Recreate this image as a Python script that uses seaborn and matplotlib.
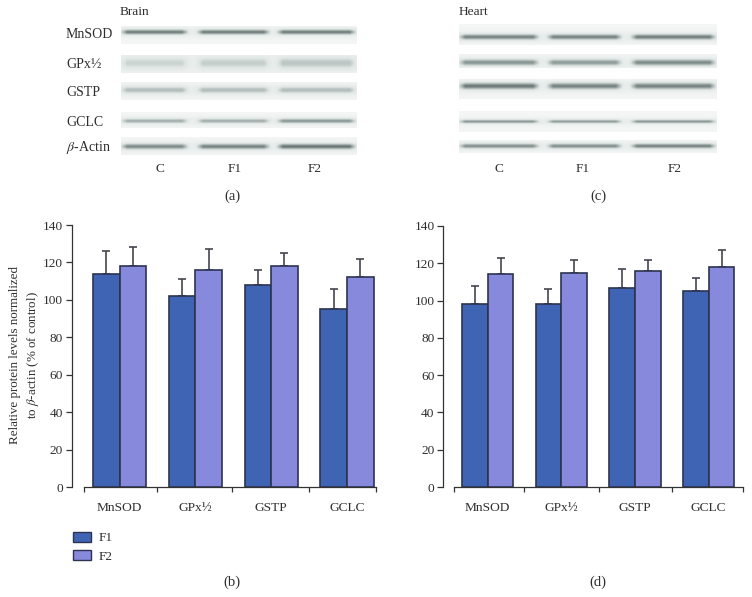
import numpy as np
import pandas as pd
import seaborn as sns
import matplotlib
matplotlib.use("Agg")
import matplotlib.pyplot as plt
from matplotlib.colors import LinearSegmentedColormap
from matplotlib.patches import Patch

proteins = ["MnSOD", "GPx½", "GSTP", "GCLC"]
generations = ["F1", "F2"]
brain_f1 = [114, 102, 108, 95]
brain_f2 = [118, 116, 118, 112]
brain_f1_top = [126, 111, 116, 106]
brain_f2_top = [128, 127, 125, 122]
heart_f1 = [98, 98, 107, 105]
heart_f2 = [114, 115, 116, 118]
heart_f1_top = [108, 106, 117, 112]
heart_f2_top = [123, 122, 122, 127]
yticks = [0, 20, 40, 60, 80, 100, 120, 140]
blot_labels = ["MnSOD", "GPx½", "GSTP", "GCLC", r"$\beta$-Actin"]
lane_labels = ["C", "F1", "F2"]

# band darkness per strip and lane (C, F1, F2)
brain_bands = [[0.85, 0.85, 0.85], [0.28, 0.32, 0.38], [0.45, 0.45, 0.45], [0.55, 0.55, 0.70], [0.78, 0.82, 0.90]]
heart_bands = [[0.82, 0.82, 0.85], [0.72, 0.68, 0.78], [0.88, 0.82, 0.82], [0.72, 0.68, 0.72], [0.75, 0.75, 0.82]]

W, H = 752, 597
C1, C2 = "#3f64b3", "#8789dc"
EDGE = "#2c3350"
TXT = "#2e2e2e"

sns.set_theme(style="white")
plt.rcParams["font.family"] = ["Liberation Serif", "DejaVu Serif"]
plt.rcParams["mathtext.fontset"] = "stix"
plt.rcParams["font.size"] = 9.6
fig = plt.figure(figsize=(W / 100, H / 100), dpi=100)
fig.patch.set_facecolor("white")


def rect(x0, y0, x1, y1):
    return [x0 / W, 1 - y1 / H, (x1 - x0) / W, (y1 - y0) / H]


def label(x, y, s, ha="center", **kw):
    fig.text(x / W, 1 - y / H, s, ha=ha, va="center", color=TXT, fontsize=kw.pop("fontsize", 9.6), **kw)


blot_cmap = LinearSegmentedColormap.from_list("blot", ["#ffffff", "#dfe6e4", "#8d9a98", "#2f3b3a"])


def blot(x0, x1, y0, y1, yc, lanes, strengths, sigma):
    nx, ny = int(x1 - x0) * 2, int((y1 - y0)) * 3
    xs = np.linspace(x0, x1, nx)
    ys = np.linspace(y0, y1, ny)
    env = np.zeros(nx)
    for (a, b), s in zip(lanes, strengths):
        env = np.maximum(env, s * np.clip((xs - a + 2) / 8, 0, 1) * np.clip((b - xs + 2) / 8, 0, 1))
    X, Y = np.meshgrid(env, ys)
    core = X * np.exp(-((Y - yc) / (sigma * 1.25)) ** 2)
    halo = 0.13 * np.exp(-((Y - yc) / (sigma * 3.0)) ** 2)
    img = np.clip(0.11 + halo + 0.62 * core, 0, 1)
    a = fig.add_axes(rect(x0, y0, x1, y1))
    a.imshow(img, cmap=blot_cmap, vmin=0, vmax=1, aspect="auto", interpolation="bilinear")
    a.axis("off")


brain_lanes = [(121, 188), (197, 270), (277, 356)]
brain_strips = [(26, 44, 32, 2.0), (55, 73, 63, 4.5), (82, 100, 90, 2.6), (112, 128, 121, 1.8), (137, 155, 146.5, 2.2)]
for (y0, y1, yc, sg), st in zip(brain_strips, brain_bands):
    blot(121, 357, y0, y1, yc, brain_lanes, st, sg)

heart_lanes = [(459, 539), (547, 622), (631, 716)]
heart_strips = [(24, 45, 37, 2.2), (54, 68, 62.5, 2.5), (79, 99, 86, 2.6), (111, 132, 122, 1.3), (140, 153, 146, 1.9)]
for (y0, y1, yc, sg), st in zip(heart_strips, heart_bands):
    blot(459, 717, y0, y1, yc, heart_lanes, st, sg)

for y, s in zip([35, 64, 92, 123, 147], blot_labels):
    label(66, y, s, ha="left", fontsize=10)
label(120, 12, "Brain", ha="left", fontsize=9.6)
label(459, 12, "Heart", ha="left", fontsize=9.6)
for x, s in zip([160, 235, 315], lane_labels):
    label(x, 169, s)
for x, s in zip([499, 583, 675], lane_labels):
    label(x, 169, s)
label(232, 196, "(a)", fontsize=10.5)
label(598, 196, "(c)", fontsize=10.5)
label(232, 582, "(b)", fontsize=10.5)
label(598, 582, "(d)", fontsize=10.5)


def panel(ax_left, ax_right, top, x_start, x_end, centers, ticks, f1, f2, t1, t2):
    ax = fig.add_axes(rect(ax_left, top, ax_right, 487))
    df = pd.DataFrame({
        "protein": proteins * 2,
        "generation": [generations[0]] * 4 + [generations[1]] * 4,
        "level": list(f1) + list(f2),
    })
    spacing = (centers[-1] - centers[0]) / 3
    to_data = lambda px: (px - centers[0]) / spacing
    sns.barplot(data=df, x="protein", y="level", hue="generation", palette=[C1, C2], width=0.7, gap=0,
                errorbar=None, edgecolor=EDGE, linewidth=1.2, legend=False, ax=ax, saturation=1, zorder=3)
    for off, vals, tops in [(-0.175, f1, t1), (0.175, f2, t2)]:
        xp = np.arange(4) + off
        up = np.array(tops) - np.array(vals)
        ax.errorbar(xp, vals, yerr=[np.zeros(4), up], fmt="none", ecolor="#45454f", elinewidth=1.2,
                    capsize=3, capthick=1.2, zorder=2)
    ax.set_xlim(to_data(ax_left), to_data(ax_right))
    ax.set_ylim(0, 140)
    ax.set_yticks(yticks)
    ax.set_xticks([to_data(t) for t in ticks])
    ax.set_xticklabels([])
    ax.set_xlabel("")
    ax.set_ylabel("")
    ax.set_xticks(range(4), minor=True)
    ax.set_xticklabels(proteins, minor=True)
    ax.tick_params(axis="x", which="minor", length=0, pad=10.5, labelsize=9.6, labelcolor=TXT)
    ax.tick_params(axis="x", which="major", length=3.5, width=0.9, color="#333333", bottom=True)
    ax.tick_params(axis="y", length=4, width=0.9, color="#333333", pad=2.5, labelsize=9.6, labelcolor=TXT, left=True)
    for s in ["top", "right"]:
        ax.spines[s].set_visible(False)
    for s in ["left", "bottom"]:
        ax.spines[s].set_color("#333333")
        ax.spines[s].set_linewidth(0.9)
    ax.spines["bottom"].set_bounds(to_data(x_start), to_data(x_end))
    ax.patch.set_alpha(0)
    return ax


panel(72, 377, 225, 84, 376, [119.5, 195, 270.5, 347], [84, 157, 232, 309, 376],
      brain_f1, brain_f2, brain_f1_top, brain_f2_top)
panel(443.5, 745, 226, 454, 743, [487.7, 560.7, 634, 708.7], [454, 524, 599, 672, 743],
      heart_f1, heart_f2, heart_f1_top, heart_f2_top)

fig.text(15 / W, 1 - 355 / H, "Relative protein levels normalized", rotation=90, ha="center", va="center",
         color=TXT, fontsize=9.4)
fig.text(33 / W, 1 - 355 / H, r"to $\beta$-actin (% of control)", rotation=90, ha="center", va="center",
         color=TXT, fontsize=9.4)

handles = [Patch(facecolor=C1, edgecolor=EDGE, linewidth=1.0, label="F1"),
           Patch(facecolor=C2, edgecolor=EDGE, linewidth=1.0, label="F2")]
leg = fig.legend(handles=handles, loc="upper left", bbox_to_anchor=(72.7 / W, 1 - 531.5 / H), frameon=False,
                 borderaxespad=0, borderpad=0, handlelength=1.35, handleheight=0.83, handletextpad=0.6,
                 labelspacing=0.42, fontsize=9.6, labelcolor=TXT)

fig.savefig("out.png", dpi=100, facecolor="white")
